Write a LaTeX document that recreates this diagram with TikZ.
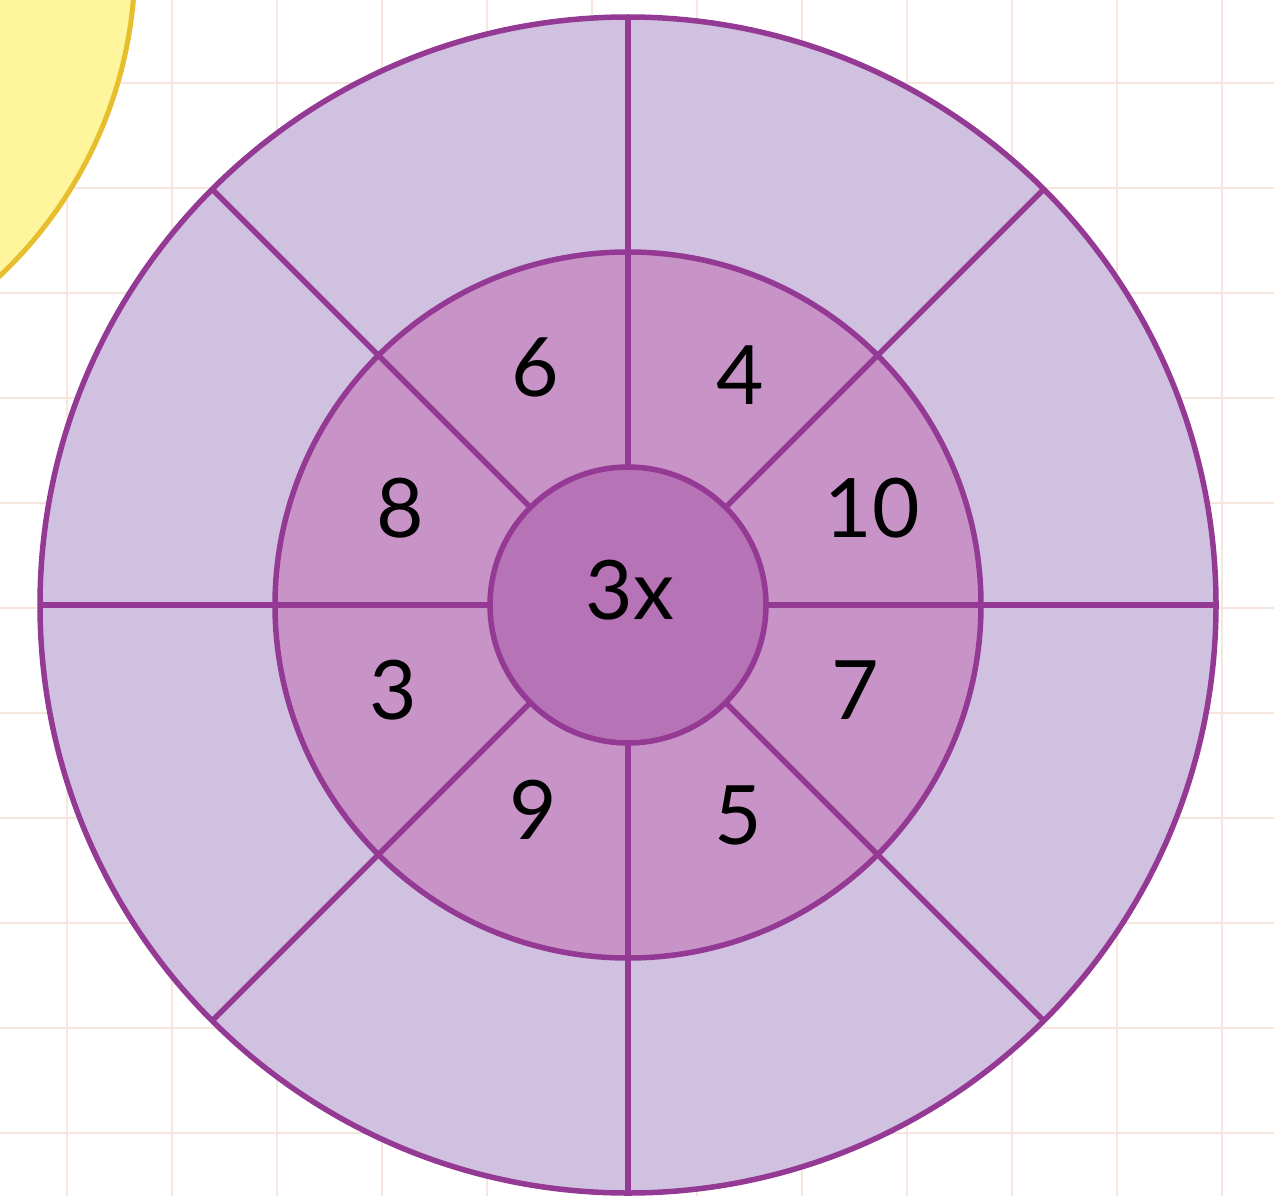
\documentclass[tikz,border=0pt]{standalone}
\usepackage{fontspec}
\setmainfont{Lato}
\usetikzlibrary{calc}
\definecolor{gridc}{HTML}{F7E6DE}
\definecolor{sunfill}{HTML}{FFF59D}
\definecolor{sunline}{HTML}{E6BE2E}
\definecolor{outerfill}{HTML}{D1C1E0}
\definecolor{midfill}{HTML}{C894C8}
\definecolor{innerfill}{HTML}{B673B6}
\definecolor{rim}{HTML}{943A94}
\tikzset{
  num/.style={font=\fontsize{82}{88}\selectfont, text=black, inner sep=0pt},
  rimline/.style={draw=rim, line width=5.5pt}
}
\begin{document}
\begin{tikzpicture}[x=1pt,y=-1pt]
\useasboundingbox (0,0) rectangle (1274,1196);
\fill[white] (0,0) rectangle (1274,1196);
% grid
\foreach \i in {0,...,11} {
  \draw[gridc, line width=2pt] ({67+105*\i},0) -- ({67+105*\i},1196);
}
\foreach \j in {-1,...,10} {
  \draw[gridc, line width=2pt] (0,{83+105*\j}) -- (1274,{83+105*\j});
}
% sun
\begin{scope}
\clip (0,0) rectangle (1274,1196);
\draw[fill=sunfill, draw=sunline, line width=5pt] (-297,-38) circle (432);
\end{scope}
% wheel
\coordinate (c) at (628,605);
\draw[rimline, fill=outerfill] (c) circle (588);
\draw[rimline, fill=midfill] (c) circle (353);
\foreach \a in {0,45,...,315} {
  \draw[rimline] ($(c)+(\a:138)$) -- ($(c)+(\a:588)$);
}
\draw[rimline, fill=innerfill] (c) circle (138);
% labels
\node[num] (n3x) at (630,590) {3x};
\node[num] (n6) at (535,367) {6};
\node[num] (n4) at (740,375) {4};
\node[num] (n8) at (400,508) {8};
\node[num] (n10) at (872,508) {10};
\node[num] (n3) at (393,690) {3};
\node[num] (n7) at (855,690) {7};
\node[num] (n9) at (533,810) {9};
\node[num] (n5) at (738,815) {5};
\end{tikzpicture}
\end{document}
